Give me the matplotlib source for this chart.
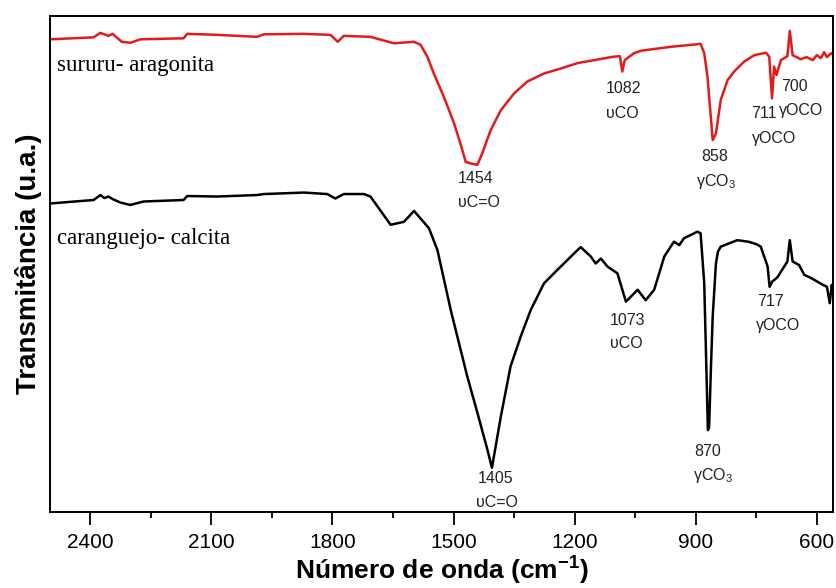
import numpy as np
import matplotlib
matplotlib.use("Agg")
import matplotlib.pyplot as plt

plt.rcParams["font.family"] = "Liberation Sans"
plt.rcParams["mathtext.fontset"] = "custom"
plt.rcParams["mathtext.rm"] = "Liberation Sans"
plt.rcParams["mathtext.it"] = "Liberation Sans:italic"
plt.rcParams["mathtext.bf"] = "Liberation Sans:bold"

# -------------------------------------------------
# FTIR spectra (wavenumber in cm-1, transmittance in a.u.)
# -------------------------------------------------
wn_sururu = [2499, 2392, 2375, 2365, 2355, 2345, 2322, 2301, 2276, 2169, 2160,
             2086, 1987, 1970, 1871, 1805, 1787, 1772, 1706, 1648, 1598, 1582,
             1565, 1549, 1524, 1499, 1483, 1470, 1454, 1441, 1429, 1408, 1383,
             1350, 1317, 1276, 1235, 1193, 1152, 1103, 1088, 1082, 1076, 1053,
             1036, 960, 897, 888, 879, 871, 862, 858, 850, 838, 821, 805, 780,
             755, 726, 718, 711, 706, 700, 689, 673, 667, 660, 640, 625, 610,
             600, 590, 582, 575, 565, 558]
t_sururu = [95.3, 95.7, 96.6, 96.3, 96.0, 96.4, 94.8, 94.6, 95.3, 95.5, 96.4,
            96.2, 95.8, 96.3, 96.4, 96.2, 94.8, 96.0, 95.8, 94.5, 94.8, 94.2,
            91.8, 88.4, 83.7, 78.4, 74.3, 70.6, 70.2, 70.0, 72.3, 77.0, 81.0,
            84.4, 86.8, 88.4, 89.4, 90.5, 91.1, 91.8, 91.9, 88.8, 91.1, 92.5,
            93.0, 93.8, 94.3, 94.4, 92.5, 87.8, 79.0, 75.0, 76.3, 83.1, 87.1,
            88.8, 90.8, 92.1, 92.6, 91.8, 83.4, 89.8, 88.1, 91.1, 91.9, 97.0,
            92.1, 91.3, 91.7, 91.1, 92.1, 91.5, 92.7, 91.7, 92.5, 92.1]

wn_caranguejo = [2499, 2392, 2375, 2365, 2355, 2345, 2326, 2301, 2268, 2169,
                 2160, 2086, 1987, 1970, 1871, 1813, 1793, 1772, 1722, 1706,
                 1656, 1623, 1598, 1561, 1540, 1507, 1466, 1441, 1416, 1405,
                 1383, 1359, 1334, 1309, 1276, 1243, 1193, 1185, 1160, 1148,
                 1135, 1119, 1094, 1073, 1044, 1024, 1003, 978, 954, 941, 929,
                 896, 888, 879, 874, 870, 867, 862, 858, 850, 845, 838, 797,
                 770, 750, 739, 722, 717, 710, 705, 697, 673, 667, 660, 644,
                 631, 615, 598, 585, 575, 568, 563, 560]
t_caranguejo = [62.2, 62.9, 63.9, 63.3, 63.6, 63.1, 62.4, 61.9, 62.6, 62.9,
                63.7, 63.6, 63.9, 64.1, 64.4, 64.1, 63.2, 64.1, 64.1, 63.6,
                57.9, 58.5, 60.7, 57.2, 52.8, 40.7, 27.3, 20.0, 12.5, 8.9,
                19.2, 29.3, 35.3, 40.7, 46.1, 48.8, 52.8, 53.4, 51.5, 50.1,
                51.1, 49.5, 48.1, 42.4, 44.8, 42.7, 44.8, 51.5, 54.5, 53.8,
                55.2, 56.5, 56.2, 46.1, 30.0, 16.5, 17.0, 30.0, 39.4, 50.1,
                52.5, 53.5, 54.8, 54.5, 54.0, 53.5, 49.5, 45.4, 46.5, 46.8,
                47.4, 50.5, 54.8, 50.5, 49.8, 47.8, 47.2, 46.4, 45.8, 45.4,
                42.1, 45.8, 44.4]

# band labels: (text, wavenumber, transmittance)
bands_sururu = [("1454", 1445, 67.3), ("υC=O", 1438, 62.4),
                ("1082", 1079, 85.4), ("υCO", 1082, 80.4),
                ("858", 853, 71.6), ("γCO$_3$", 850, 66.6),
                ("711", 732, 80.4), ("γOCO", 706, 75.3),
                ("700", 656, 85.7), ("γOCO", 640, 81.0)]
bands_caranguejo = [("1405", 1396, 6.8), ("υC=O", 1392, 1.9),
                    ("1073", 1069, 38.7), ("υCO", 1073, 34.0),
                    ("870", 871, 12.2), ("γCO$_3$", 858, 7.3),
                    ("717", 716, 42.4), ("γOCO", 695, 37.5)]

fig = plt.figure(figsize=(8.37, 5.88), dpi=100)
ax = fig.add_axes([0.0597, 0.1293, 0.9355, 0.8435])

ax.plot(wn_sururu, t_sururu, color="#e31a1c", lw=1.8)
ax.plot(wn_caranguejo, t_caranguejo, color="black", lw=1.8)

for txt, x, y in bands_sururu + bands_caranguejo:
    ax.text(x, y, txt, ha="center", va="center", fontsize=11.5, color="#222222")

ax.text(2482, 90.1, "sururu- aragonita", family="Liberation Serif",
        fontsize=16.5, ha="left", va="center")
ax.text(2482, 55.2, "caranguejo- calcita", family="Liberation Serif",
        fontsize=16.5, ha="left", va="center")

ax.set_xlim(2500, 560)
ax.set_ylim(0, 100)
ax.set_xticks([2400, 2100, 1800, 1500, 1200, 900, 600])
ax.set_xticks([2250, 1950, 1650, 1350, 1050, 750], minor=True)
ax.tick_params(axis="x", which="major", direction="out", length=9, width=1.3,
               labelsize=15, pad=6)
ax.tick_params(axis="x", which="minor", direction="out", length=4, width=1.3)
ax.set_yticks([])
for s in ax.spines.values():
    s.set_linewidth(1.4)

ax.set_xlabel(r"Número de onda (cm$^{\mathbf{-1}}$)", fontsize=19,
              fontweight="bold", labelpad=2)
ax.set_ylabel("Transmitância (u.a.)", fontsize=20, fontweight="bold",
              labelpad=6)

fig.savefig("out.png", dpi=100)
